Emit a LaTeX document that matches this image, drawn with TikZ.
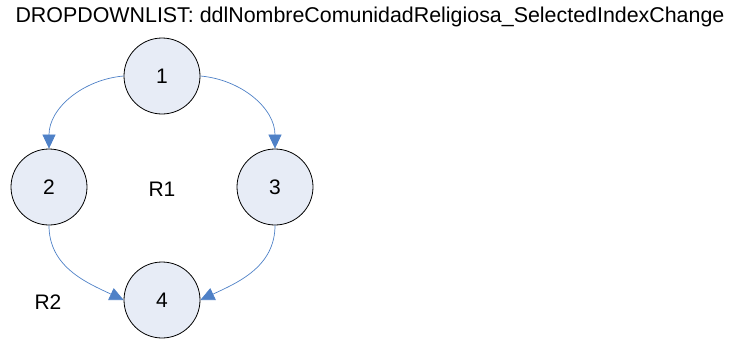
\documentclass[tikz,border=0pt]{standalone}
\usepackage{fontspec}
\setmainfont{Liberation Sans}
\usetikzlibrary{arrows.meta}
\definecolor{ndfill}{RGB}{231,236,246}
\definecolor{edgeblue}{RGB}{79,129,199}
\begin{document}
\begin{tikzpicture}[x=1pt,y=-1pt,font=\fontsize{21}{25}\selectfont,
  nd/.style={draw,circle,fill=ndfill,minimum size=76pt,inner sep=0pt,line width=0.8pt},
  edge/.style={draw=edgeblue,line width=0.7pt,-{Triangle[length=14pt,width=13pt,fill=edgeblue]}}]
\useasboundingbox (0,0) rectangle (729,338);
\node[font=\fontsize{21.4}{25}\selectfont] (title) at (370,17) {DROPDOWNLIST: ddlNombreComunidadReligiosa\_SelectedIndexChange};
\node[nd] (n1) at (162,76) {1};
\node[nd] (n2) at (49,187) {2};
\node[nd] (n3) at (275,187) {3};
\node[nd] (n4) at (162,300) {4};
\node (r1) at (162,189) {R1};
\node (r2) at (48,302) {R2};
\draw[edge] (n1.west) to[out=185,in=90] (n2.north);
\draw[edge] (n1.east) to[out=-5,in=90] (n3.north);
\draw[edge] (n2.south) to[out=-90,in=155] (n4.west);
\draw[edge] (n3.south) to[out=-90,in=25] (n4.east);
\end{tikzpicture}
\end{document}
